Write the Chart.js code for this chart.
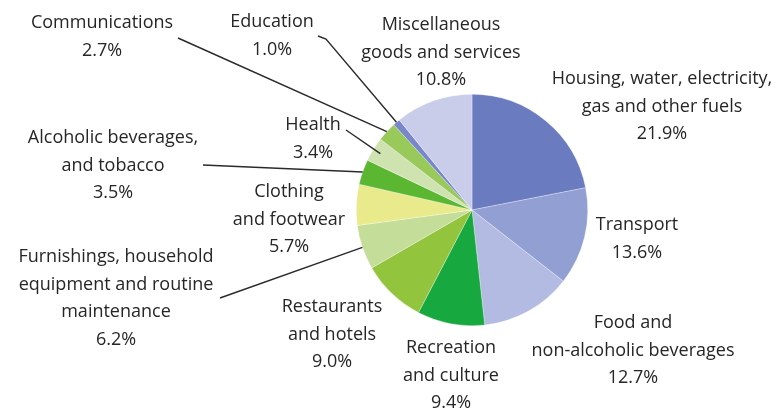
<!DOCTYPE html>
<html>
<head>
<meta charset="utf-8">
<script src="https://cdn.jsdelivr.net/npm/chart.js@4"></script>
<style>
    html, body { margin: 0; padding: 0; background: #fff; }
    #wrap { position: relative; width: 779px; height: 411px; }
</style>
</head>
<body>
<div id="wrap"><canvas id="spend-chart"></canvas></div>
<script>
// categories, clockwise from 12 o'clock
var categories = [
    "Housing, water, electricity, gas and other fuels",
    "Transport",
    "Food and non-alcoholic beverages",
    "Recreation and culture",
    "Restaurants and hotels",
    "Furnishings, household equipment and routine maintenance",
    "Clothing and footwear",
    "Alcoholic beverages, and tobacco",
    "Health",
    "Communications",
    "Education",
    "Miscellaneous goods and services"
];
var shares = [21.9, 13.6, 12.7, 9.4, 9.0, 6.2, 5.7, 3.5, 3.4, 2.7, 1.0, 10.8];

// label text as printed (line breaks)
var labelLines = [
    ["Housing, water, electricity,", "gas and other fuels"],
    ["Transport"],
    ["Food and", "non-alcoholic beverages"],
    ["Recreation", "and culture"],
    ["Restaurants", "and hotels"],
    ["Furnishings, household", "equipment and routine", "maintenance"],
    ["Clothing", "and footwear"],
    ["Alcoholic beverages,", "and tobacco"],
    ["Health"],
    ["Communications"],
    ["Education"],
    ["Miscellaneous", "goods and services"]
];

var colors = [
    "#6b7bbf", "#919fd3", "#b3bbe2", "#17a83f", "#92c43e", "#c4dd98",
    "#e9ea8c", "#5bb631", "#cfe3b0", "#98c95a", "#7787c9", "#c9cdea"
];

// label placement (centre x, first line y)
var labelX = [662, 637, 633, 451, 332, 116, 289, 113, 313, 102, 272, 441];
var labelY = [79, 225, 323, 348, 307, 257, 192, 138, 125, 23, 22, 25];
var lineGap = 27.5;

// leader lines: slice index -> start point of the line
var leaders = [
    { i: 9, from: [178, 38], r: 1.0 },
    { i: 10, from: [318, 36], bend: [326, 39], r: 1.0 },
    { i: 8, from: [346, 130], r: 0.93 },
    { i: 7, from: [203, 165], r: 1.0 },
    { i: 5, from: [220, 298], r: 1.0 }
];

var labelPlugin = {
    id: "sliceLabels",
    afterDraw: function (chart) {
        var ctx = chart.ctx;
        var arcs = chart.getDatasetMeta(0).data;
        ctx.save();

        ctx.strokeStyle = "#2a2a2a";
        ctx.lineWidth = 1.4;
        leaders.forEach(function (l) {
            var a = arcs[l.i];
            var mid = (a.startAngle + a.endAngle) / 2;
            var ex = a.x + Math.cos(mid) * a.outerRadius * l.r;
            var ey = a.y + Math.sin(mid) * a.outerRadius * l.r;
            ctx.beginPath();
            ctx.moveTo(l.from[0], l.from[1]);
            if (l.bend) ctx.lineTo(l.bend[0], l.bend[1]);
            ctx.lineTo(ex, ey);
            ctx.stroke();
        });

        ctx.fillStyle = "#262626";
        ctx.font = "18px 'Open Sans'";
        ctx.textAlign = "center";
        ctx.textBaseline = "middle";
        labelLines.forEach(function (lines, i) {
            var all = lines.concat([shares[i].toFixed(1) + "%"]);
            all.forEach(function (t, k) {
                ctx.fillText(t, labelX[i], labelY[i] + k * lineGap);
            });
        });
        ctx.restore();
    }
};

var context = document.getElementById("spend-chart").getContext("2d");

var myChart = new Chart(context, {
    type: "pie",
    data: {
        labels: categories,
        datasets: [
            {
                data: shares,
                backgroundColor: colors,
                borderColor: "rgba(255,255,255,0.6)",
                borderWidth: 0.5
            }
        ]
    },
    options: {
        responsive: true,
        maintainAspectRatio: false,
        animation: false,
        layout: {
            padding: { left: 356, right: 191, top: 94, bottom: 85 }
        },
        plugins: {
            legend: { display: false },
            tooltip: { enabled: false }
        }
    },
    plugins: [labelPlugin]
});
</script>
</body>
</html>
